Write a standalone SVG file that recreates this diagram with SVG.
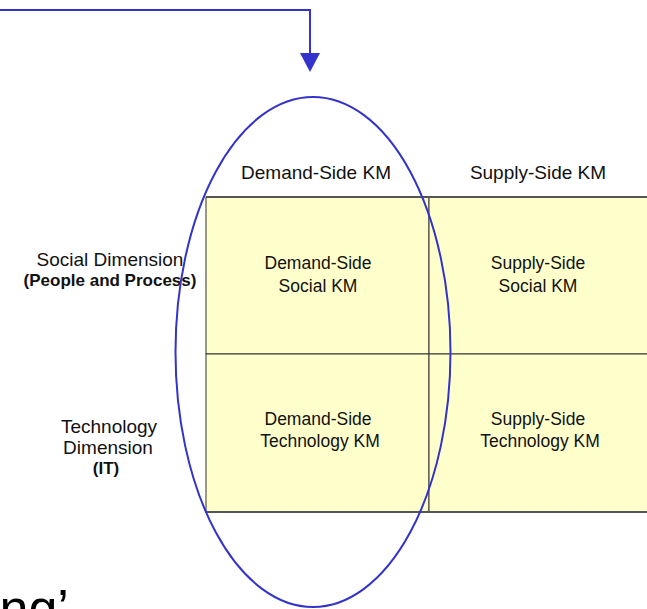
<svg xmlns="http://www.w3.org/2000/svg" width="647" height="609" viewBox="0 0 647 609">
<style>
  text { font-family: "Liberation Sans", Arial, sans-serif; fill: #111; text-anchor: middle; }
  .hdr { font-size: 19px; }
  .cell { font-size: 17.5px; }
  .lbl { font-size: 19px; }
  .bold { font-size: 17px; font-weight: bold; }
  .box { fill: #FFFFCC; stroke: #333; stroke-width: 1; }
  .edge { stroke: #555; stroke-width: 2; fill: none; }
  .blue { stroke: #3333CC; stroke-width: 2; fill: none; }
</style>
<defs>
  <marker id="tri" markerWidth="19" markerHeight="20" refX="0" refY="10" orient="auto" markerUnits="userSpaceOnUse" viewBox="0 0 19 20">
    <path d="M0,0 L19,10 L0,20 Z" fill="#3333CC"/>
  </marker>
</defs>
<rect width="647" height="609" fill="#fff"/>

<g id="cell-demand-social">
  <rect class="box" x="206" y="197" width="223" height="157"/>
  <text class="cell" x="318" y="269">Demand-Side</text>
  <text class="cell" x="318" y="291.5">Social KM</text>
</g>
<g id="cell-supply-social">
  <rect class="box" x="429" y="197" width="222" height="157"/>
  <text class="cell" x="538" y="269">Supply-Side</text>
  <text class="cell" x="538" y="291.5">Social KM</text>
</g>
<g id="cell-demand-tech">
  <rect class="box" x="206" y="354" width="223" height="158"/>
  <text class="cell" x="318" y="425">Demand-Side</text>
  <text class="cell" x="320" y="447">Technology KM</text>
</g>
<g id="cell-supply-tech">
  <rect class="box" x="429" y="354" width="222" height="158"/>
  <text class="cell" x="538" y="425">Supply-Side</text>
  <text class="cell" x="540" y="447">Technology KM</text>
</g>
<g id="grid-edges">
  <line class="edge" x1="206" y1="197" x2="651" y2="197"/>
  <line class="edge" x1="206" y1="512" x2="651" y2="512"/>
</g>

<g id="header-demand">
  <text class="hdr" x="316" y="179">Demand-Side KM</text>
</g>
<g id="header-supply">
  <text class="hdr" x="538" y="179">Supply-Side KM</text>
</g>

<g id="label-social">
  <text class="lbl" x="110" y="266">Social Dimension</text>
  <text class="bold" x="110" y="286">(People and Process)</text>
</g>
<g id="label-technology">
  <text class="lbl" x="109" y="433">Technology</text>
  <text class="lbl" x="108" y="453.5">Dimension</text>
  <text class="bold" x="106" y="473.5">(IT)</text>
</g>

<g id="ellipse-highlight">
  <ellipse class="blue" cx="313" cy="352" rx="137.5" ry="255"/>
</g>

<g id="connectors">
  <path class="blue" d="M0,10 H310 V53" marker-end="url(#tri)"/>
</g>

<g id="fragment-text">
  <text x="-0.5" y="626" style="font-size:52px; text-anchor:start; fill:#000">ng’</text>
</g>
</svg>
